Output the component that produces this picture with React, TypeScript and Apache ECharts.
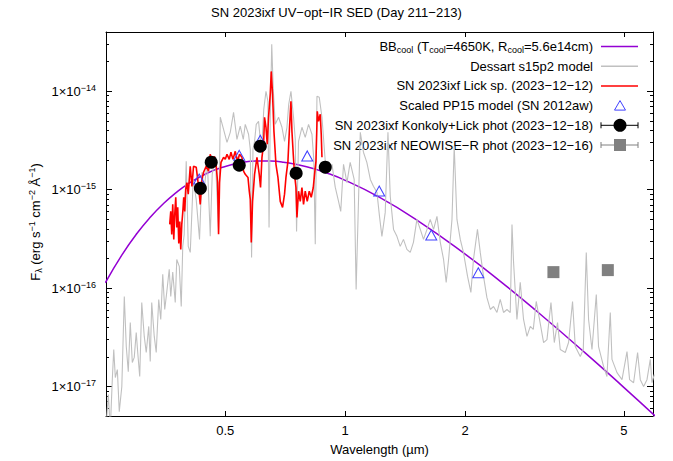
import { useEffect, useRef } from 'react';
import * as echarts from 'echarts';

const FONT = '"Liberation Sans", Arial, Helvetica, sans-serif';

// Cool blackbody component (T_cool = 4650 K, R_cool = 5.6e14 cm); wavelength in µm, F_λ in erg s^-1 cm^-2 Å^-1
const bbWave = [0.25, 0.275, 0.3, 0.325, 0.35, 0.375, 0.4, 0.45, 0.5, 0.55, 0.6, 0.65, 0.7, 0.8, 0.9, 1.0, 1.2, 1.5, 2.0, 2.5, 3.0, 4.0, 5.0, 6.0];
const bbFlux = [1.13e-16, 2.16e-16, 3.58e-16, 5.3e-16, 7.22e-16, 9.21e-16, 1.118e-15, 1.467e-15, 1.721e-15, 1.884e-15, 1.951e-15, 1.95e-15, 1.899e-15, 1.708e-15, 1.472e-15, 1.243e-15, 8.65e-16, 5.02e-16, 2.21e-16, 1.096e-16, 5.97e-17, 2.19e-17, 9.78e-18, 4.99e-18];

// Dessart s15p2 nebular model; F_λ in units of 1e-15 erg s^-1 cm^-2 Å^-1
const dessartWave = [
  0.2514, 0.2544, 0.2573, 0.2603, 0.2625, 0.2649, 0.268, 0.271, 0.275, 0.279,
  0.2822, 0.2855, 0.2888, 0.2922, 0.2955, 0.2989, 0.3015, 0.305, 0.3086, 0.3131,
  0.3167, 0.3213, 0.3241, 0.3269, 0.3317, 0.3355, 0.3404, 0.3444, 0.3484, 0.3524,
  0.3565, 0.3617, 0.3649, 0.3691, 0.3745, 0.3778, 0.3833, 0.3877, 0.3911, 0.3944,
  0.399, 0.4037, 0.4084, 0.4155, 0.4227, 0.4309, 0.437, 0.4428, 0.4506, 0.4584,
  0.4637, 0.4719, 0.481, 0.4858, 0.4951, 0.505, 0.5146, 0.5245, 0.5349, 0.5452,
  0.5548, 0.5612, 0.572, 0.5777, 0.5821, 0.5868, 0.5922, 0.598, 0.606, 0.612,
  0.6181, 0.6246, 0.6326, 0.6398, 0.6439, 0.6484, 0.654, 0.6597, 0.6674, 0.6803,
  0.6938, 0.7042, 0.7141, 0.7215, 0.7308, 0.7418, 0.7492, 0.7549, 0.7635, 0.7787,
  0.7937, 0.809, 0.8251, 0.8338, 0.841, 0.8493, 0.8606, 0.8742, 0.891, 0.9081,
  0.9262, 0.9439, 0.9621, 0.9744, 0.9902, 1.0099, 1.029, 1.053, 1.065, 1.08,
  1.091, 1.111, 1.133, 1.156, 1.177, 1.201, 1.219, 1.236, 1.26, 1.28,
  1.297, 1.322, 1.348, 1.374, 1.4, 1.428, 1.456, 1.483, 1.513, 1.543,
  1.572, 1.604, 1.634, 1.666, 1.699, 1.732, 1.765, 1.792, 1.817, 1.853,
  1.877, 1.907, 1.944, 1.98, 2.027, 2.067, 2.098, 2.147, 2.182, 2.223,
  2.267, 2.312, 2.356, 2.403, 2.449, 2.496, 2.546, 2.595, 2.621, 2.645,
  2.697, 2.749, 2.802, 2.858, 2.913, 2.964, 3.015, 3.073, 3.146, 3.208,
  3.283, 3.347, 3.41, 3.464, 3.566, 3.634, 3.719, 3.778, 3.889, 3.957,
  4.026, 4.08, 4.161, 4.266, 4.322, 4.449, 4.537, 4.625, 4.671, 4.808,
  4.949, 5.094, 5.171, 5.292, 5.416, 5.501, 5.607, 5.718, 5.828, 5.886, 5.964,
];
const dessartFlux15 = [
  0.00409, 0.00827, 0.00364, 0.0117, 0.0237, 0.0123, 0.0148, 0.00554, 0.00993, 0.0821,
  0.0254, 0.0141, 0.0446, 0.0175, 0.0197, 0.0353, 0.0221, 0.0126, 0.0713, 0.0322,
  0.0221, 0.0407, 0.0179, 0.0713, 0.0322, 0.0221, 0.0765, 0.0479, 0.138, 0.0605,
  0.0901, 0.155, 0.0821, 0.145, 0.0713, 0.195, 0.166, 0.0649, 0.265, 0.351,
  1.94, 0.265, 0.23, 1.27, 0.796, 0.312, 1.5, 1.01, 2.03, 0.335,
  1.43, 2.18, 0.394, 5.44, 4.1, 3.02, 3.82, 6.11, 3.24, 4.41,
  3.24, 4.61, 3.65, 2.57, 0.204, 2.57, 3.09, 4.61, 4.95, 3.24,
  2.89, 6.56, 10.0, 7.9, 0.413, 5.19, 30.1, 10.5, 4.61, 5.44,
  4.3, 3.09, 4.3, 7.37, 10.0, 5.44, 3.24, 0.376, 3.09, 4.3,
  3.4, 4.61, 3.65, 2.03, 0.278, 8.88, 8.68, 5.44, 1.94, 1.54,
  1.81, 1.06, 0.76, 0.601, 1.81, 1.18, 1.89, 1.27, 0.0967, 0.796,
  3.82, 2.4, 1.89, 1.27, 1.08, 0.941, 0.534, 0.335, 0.587, 3.82,
  0.857, 0.394, 0.335, 0.265, 0.312, 0.247, 0.23, 0.291, 0.498, 0.394,
  0.312, 0.394, 0.498, 0.394, 0.534, 0.291, 0.195, 0.114, 0.195, 0.498,
  2.76, 0.498, 0.312, 0.23, 0.132, 0.0901, 0.195, 0.394, 0.23, 0.132,
  0.0802, 0.0605, 0.0649, 0.0564, 0.0765, 0.0564, 0.0605, 0.0564, 0.443, 0.182,
  0.0479, 0.114, 0.0479, 0.0322, 0.0407, 0.0379, 0.073, 0.0479, 0.0279, 0.0299,
  0.0713, 0.0279, 0.0446, 0.0237, 0.0221, 0.0279, 0.073, 0.0254, 0.0201, 0.0237,
  0.23, 0.0479, 0.0237, 0.086, 0.0254, 0.016, 0.0126, 0.0564, 0.0188, 0.0138,
  0.0117, 0.0226, 0.0117, 0.0109, 0.0221, 0.0117, 0.00997, 0.0117, 0.0188, 0.0109, 0.0132,
];

// Lick spectrum of 2023-12-12; F_λ in units of 1e-15 erg s^-1 cm^-2 Å^-1
const lickWave = [
  0.3627, 0.3649, 0.367, 0.3691, 0.3713, 0.3734, 0.3756, 0.3778, 0.3799, 0.3822,
  0.3844, 0.3866, 0.3889, 0.3911, 0.3933, 0.3956, 0.3979, 0.4006, 0.4037, 0.4084,
  0.4124, 0.4162, 0.4227, 0.4285, 0.4327, 0.437, 0.441, 0.448, 0.4539, 0.4584,
  0.4629, 0.4692, 0.4746, 0.4783, 0.481, 0.4838, 0.4878, 0.4951, 0.5, 0.505,
  0.5116, 0.5167, 0.5227, 0.5297, 0.5368, 0.543, 0.5506, 0.5557, 0.5612, 0.5701,
  0.5744, 0.5777, 0.5811, 0.5854, 0.5922, 0.6005, 0.6085, 0.613, 0.6181, 0.6238,
  0.6274, 0.6326, 0.6372, 0.642, 0.6484, 0.6522, 0.6571, 0.6624, 0.6701, 0.6779,
  0.687, 0.6962, 0.7042, 0.71, 0.7182, 0.7248, 0.7308, 0.735, 0.7406, 0.7461,
  0.7523, 0.7566, 0.7635, 0.7711, 0.7787, 0.7859, 0.7937, 0.8029, 0.8123, 0.8217,
  0.8314, 0.8376, 0.8444, 0.8508, 0.8571, 0.8656, 0.8706, 0.8742,
];
const lickFlux15 = [
  0.443, 0.601, 0.351, 0.708, 0.312, 0.56, 0.837, 0.413, 0.66, 0.284,
  0.475, 0.247, 0.443, 0.587, 0.837, 0.601, 1.01, 1.18, 0.899, 1.73,
  1.08, 1.73, 1.69, 1.08, 0.708, 1.27, 1.5, 1.73, 1.54, 2.29,
  1.89, 2.18, 1.73, 1.18, 0.351, 1.18, 1.89, 2.13, 2.03, 2.29,
  2.03, 2.4, 2.03, 2.45, 1.94, 2.29, 2.13, 1.54, 1.43, 1.33,
  0.964, 0.796, 0.291, 0.76, 1.43, 2.13, 1.43, 1.05, 2.13, 2.89,
  5.44, 4.3, 2.89, 5.44, 9.34, 15.9, 9.34, 3.91, 1.81, 1.33,
  0.76, 0.66, 0.899, 1.33, 1.94, 4.3, 7.9, 3.91, 2.29, 1.43,
  1.05, 0.522, 0.964, 0.76, 1.05, 0.708, 0.964, 0.76, 0.964, 0.837,
  1.05, 1.43, 1.94, 6.26, 4.95, 5.84, 3.65, 2.13,
];

// Scaled PP15 model photometry (SN 2012aw)
const pp15Wave = [0.43, 0.542, 0.612, 0.803, 1.217, 1.644, 2.157];
const pp15Flux = [1.28e-15, 2.23e-15, 3.17e-15, 2.2e-15, 9.68e-16, 3.45e-16, 1.43e-16];

// Konkoly + Lick photometry, 2023-12-18
const photWave = [0.433, 0.461, 0.542, 0.612, 0.753, 0.891];
const photFlux = [1.03e-15, 1.9e-15, 1.77e-15, 2.76e-15, 1.47e-15, 1.69e-15];

// NEOWISE-R photometry, 2023-12-16 (W1, W2)
const wiseWave = [3.33, 4.56];
const wiseFlux = [1.45e-16, 1.52e-16];

// Axis ranges and tick positions
const X_MIN = 0.251;
const X_MAX = 5.92;
const Y_MIN = 5e-18;
const Y_MAX = 4e-14;
const xMajorTicks = [0.5, 1, 2, 5];
const yMajorTicks = [1e-17, 1e-16, 1e-15, 1e-14];
const yDecades = [-18, -17, -16, -15, -14];
const yMantissas = [2, 3, 4, 5, 6, 7, 8, 9];

const legendLabels = [
  'BB{sub|cool} (T{sub|cool}=4650K, R{sub|cool}=5.6e14cm)',
  'Dessart s15p2 model',
  'SN 2023ixf Lick sp. (2023−12−12)',
  'Scaled PP15 model (SN 2012aw)',
  'SN 2023ixf Konkoly+Lick phot (2023−12−18)',
  'SN 2023ixf NEOWISE−R phot (2023−12−16)',
];

const COLORS = {
  bb: '#9400d3',
  model: '#c0c0c0',
  lick: '#ff0000',
  pp15: '#4040ff',
  phot: '#000000',
  wise: '#808080',
};

const zip = (xs: number[], ys: number[], scale = 1) => xs.map((x, i) => [x, ys[i] * scale]);

function buildOption() {
  const yMinorTicks: number[] = [];
  yDecades.forEach((e) => {
    yMantissas.forEach((m) => {
      const v = m * Math.pow(10, e);
      if (v >= Y_MIN * 0.999 && v <= Y_MAX * 1.001) yMinorTicks.push(v);
    });
  });

  const txt = { fontFamily: FONT, fontSize: 13, color: '#000' };
  const richModel = {
    sup: { fontFamily: FONT, fontSize: 9, color: '#000', padding: [0, 0, 7, 0] },
    sub: { fontFamily: FONT, fontSize: 9, color: '#000', padding: [7, 0, 0, 0] },
  };
  const richZr = {
    sup: { fontFamily: FONT, fontSize: 9, fill: '#000', padding: [0, 0, 7, 0] },
    sub: { fontFamily: FONT, fontSize: 9, fill: '#000', padding: [7, 0, 0, 0] },
  };

  const xBase = {
    type: 'log',
    logBase: 10,
    min: X_MIN,
    max: X_MAX,
    splitLine: { show: false },
    minorTick: { show: false },
  };
  const yBase = {
    type: 'log',
    logBase: 10,
    min: Y_MIN,
    max: Y_MAX,
    splitLine: { show: false },
    minorTick: { show: false },
  };
  const line = { show: true, onZero: false, lineStyle: { color: '#000', width: 1 } };

  const xAxis = [
    {
      ...xBase,
      position: 'bottom',
      axisLine: line,
      axisTick: { show: true, inside: true, length: 5, lineStyle: { color: '#000' }, customValues: xMajorTicks },
      axisLabel: {
        ...txt,
        margin: 8,
        customValues: xMajorTicks,
        formatter: (v: number) => String(parseFloat(Number(v).toPrecision(3))),
      },
      name: 'Wavelength (µm)',
      nameLocation: 'middle',
      nameGap: 27,
      nameTextStyle: txt,
    },
    {
      ...xBase,
      position: 'top',
      axisLine: line,
      axisTick: { show: true, inside: true, length: 5, lineStyle: { color: '#000' }, customValues: xMajorTicks },
      axisLabel: { show: false },
    },
  ];

  const yLabel = {
    ...txt,
    margin: 10,
    customValues: yMajorTicks,
    formatter: (v: number) => {
      const e = Math.round(Math.log10(v));
      return `1×10{sup|−${Math.abs(e)}}`;
    },
    rich: richModel,
  };

  const yAxis = [
    {
      ...yBase,
      position: 'left',
      axisLine: line,
      axisTick: { show: true, inside: true, length: 6, lineStyle: { color: '#000' }, customValues: yMajorTicks },
      axisLabel: yLabel,
    },
    {
      ...yBase,
      position: 'left',
      axisLine: { show: false },
      axisTick: { show: true, inside: true, length: 3, lineStyle: { color: '#000' }, customValues: yMinorTicks },
      axisLabel: { show: false },
    },
    {
      ...yBase,
      position: 'right',
      axisLine: line,
      axisTick: { show: true, inside: true, length: 6, lineStyle: { color: '#000' }, customValues: yMajorTicks },
      axisLabel: { show: false },
    },
    {
      ...yBase,
      position: 'right',
      axisLine: { show: false },
      axisTick: { show: true, inside: true, length: 3, lineStyle: { color: '#000' }, customValues: yMinorTicks },
      axisLabel: { show: false },
    },
  ];

  const series = [
    {
      name: 'BB cool',
      type: 'line',
      z: 2,
      data: zip(bbWave, bbFlux),
      smooth: true,
      showSymbol: false,
      lineStyle: { color: COLORS.bb, width: 1.5 },
      clip: true,
    },
    {
      name: 'Dessart s15p2 model',
      type: 'line',
      z: 3,
      data: zip(dessartWave, dessartFlux15, 1e-15),
      showSymbol: false,
      lineStyle: { color: COLORS.model, width: 1.1 },
      clip: true,
    },
    {
      name: 'SN 2023ixf Lick sp.',
      type: 'line',
      z: 4,
      data: zip(lickWave, lickFlux15, 1e-15),
      showSymbol: false,
      lineStyle: { color: COLORS.lick, width: 1.6 },
      clip: true,
    },
    {
      name: 'Scaled PP15 model',
      type: 'scatter',
      z: 5,
      data: zip(pp15Wave, pp15Flux),
      symbol: 'triangle',
      symbolSize: [11, 10],
      itemStyle: { color: 'rgba(0,0,0,0)', borderColor: COLORS.pp15, borderWidth: 1, opacity: 1 },
    },
    {
      name: 'Konkoly+Lick phot',
      type: 'scatter',
      z: 6,
      data: zip(photWave, photFlux),
      symbol: 'circle',
      symbolSize: 13,
      itemStyle: { color: COLORS.phot, opacity: 1 },
    },
    {
      name: 'NEOWISE-R phot',
      type: 'scatter',
      z: 6,
      data: zip(wiseWave, wiseFlux),
      symbol: 'rect',
      symbolSize: 12,
      itemStyle: { color: COLORS.wise, opacity: 1 },
    },
  ];

  // Key, drawn in the upper-right corner of the frame
  const rowY0 = 46.5;
  const rowStep = 19.7;
  const textRight = 593;
  const sx1 = 601;
  const sx2 = 638;
  const sc = 620;
  const graphics: any[] = [];
  legendLabels.forEach((label, i) => {
    const y = rowY0 + i * rowStep;
    graphics.push({
      type: 'text',
      x: textRight,
      y,
      style: {
        text: label,
        align: 'right',
        verticalAlign: 'middle',
        fontFamily: FONT,
        fontSize: 13,
        fill: '#000',
        rich: richZr,
      },
    });
  });
  const ry = (i: number) => rowY0 + i * rowStep;
  [COLORS.bb, COLORS.model, COLORS.lick].forEach((c, i) => {
    graphics.push({
      type: 'line',
      shape: { x1: sx1, y1: ry(i), x2: sx2, y2: ry(i) },
      style: { stroke: c, lineWidth: 1.5 },
    });
  });
  graphics.push({
    type: 'polygon',
    shape: { points: [[sc, ry(3) - 5], [sc + 5.5, ry(3) + 4.5], [sc - 5.5, ry(3) + 4.5]] },
    style: { fill: 'none', stroke: COLORS.pp15, lineWidth: 1 },
  });
  [
    { i: 4, c: COLORS.phot },
    { i: 5, c: COLORS.wise },
  ].forEach(({ i, c }) => {
    const y = ry(i);
    graphics.push({ type: 'line', shape: { x1: sx1, y1: y, x2: sx2, y2: y }, style: { stroke: c, lineWidth: 1 } });
    graphics.push({ type: 'line', shape: { x1: sx1, y1: y - 3, x2: sx1, y2: y + 3 }, style: { stroke: c, lineWidth: 1 } });
    graphics.push({ type: 'line', shape: { x1: sx2, y1: y - 3, x2: sx2, y2: y + 3 }, style: { stroke: c, lineWidth: 1 } });
  });
  graphics.push({ type: 'circle', shape: { cx: sc, cy: ry(4), r: 6.5 }, style: { fill: COLORS.phot } });
  graphics.push({ type: 'rect', shape: { x: sc - 6, y: ry(5) - 6, width: 12, height: 12 }, style: { fill: COLORS.wise } });

  // Vertical axis title
  graphics.push({
    type: 'text',
    x: 35,
    y: 222,
    rotation: Math.PI / 2,
    style: {
      text: 'F{sub|λ} (erg s{sup|−1} cm{sup|−2} Å{sup|−1})',
      align: 'center',
      verticalAlign: 'middle',
      fontFamily: FONT,
      fontSize: 13,
      fill: '#000',
      rich: richZr,
    },
  });

  return {
    animation: false,
    backgroundColor: '#ffffff',
    title: {
      text: 'SN 2023ixf UV−opt−IR SED (Day 211−213)',
      left: 'center',
      top: 6,
      padding: 0,
      textStyle: { fontFamily: FONT, fontSize: 13, fontWeight: 'normal', color: '#000' },
    },
    grid: { left: 106, right: 20, top: 32, bottom: 44, containLabel: false },
    xAxis,
    yAxis,
    series,
    graphic: graphics,
  };
}

export default function App() {
  const ref = useRef<HTMLDivElement>(null);
  useEffect(() => {
    if (!ref.current) return;
    const chart = echarts.init(ref.current, null, { renderer: 'svg' });
    chart.setOption(buildOption() as any);
    return () => chart.dispose();
  }, []);
  return (
    <div
      ref={ref}
      style={{ position: 'absolute', left: 0, top: 0, width: 673, height: 461, background: '#fff' }}
    />
  );
}
